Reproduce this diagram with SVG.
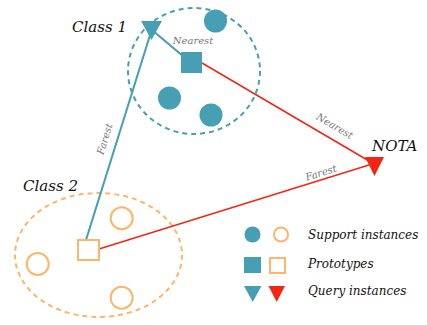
<svg xmlns="http://www.w3.org/2000/svg" width="427" height="325" viewBox="0 0 427 325">
  <style>
    .lbl { font-family: "DejaVu Serif", "Liberation Serif", serif; font-style: italic; }
    .cls { font-size: 15px; fill: #111; }
    .edge { font-size: 10px; fill: #777; }
    .leg { font-size: 12px; fill: #111; }
    .teal { fill: #479fb3; }
    .org { fill: none; stroke: #fdb56b; stroke-width: 2; }
    .red { fill: #f22613; }
    .ln-teal { stroke: #479fb3; stroke-width: 2; fill: none; }
    .ln-red { stroke: #f22613; stroke-width: 1.5; fill: none; }
  </style>
  <rect width="427" height="325" fill="#ffffff"/>

  <!-- class regions -->
  <ellipse id="region1" cx="194" cy="71" rx="66" ry="63" fill="none" stroke="#479fb3" stroke-width="2" stroke-dasharray="5,4"/>
  <ellipse id="region2" cx="98.5" cy="255" rx="83.5" ry="62" fill="none" stroke="#fdb56b" stroke-width="2" stroke-dasharray="5,4"/>

  <!-- connectors -->
  <g id="connectors">
    <line class="ln-teal" x1="190" y1="62" x2="152" y2="30"/>
    <line class="ln-teal" x1="86" y1="240" x2="151" y2="32"/>
    <line class="ln-red" x1="202" y1="63" x2="369" y2="161"/>
    <line class="ln-red" x1="99" y1="249" x2="369" y2="165"/>
    <text class="lbl edge" x="193" y="44" text-anchor="middle">Nearest</text>
    <text class="lbl edge" transform="translate(108,140) rotate(-73)" text-anchor="middle">Farest</text>
    <text class="lbl edge" transform="translate(333,129) rotate(30.5)" text-anchor="middle">Nearest</text>
    <text class="lbl edge" transform="translate(322,176) rotate(-17.4)" text-anchor="middle">Farest</text>
  </g>

  <!-- class 1 -->
  <g id="class1">
    <text class="lbl cls" x="72" y="32">Class 1</text>
    <circle class="teal" cx="215.5" cy="21" r="11.5"/>
    <circle class="teal" cx="169.5" cy="98" r="11.5"/>
    <circle class="teal" cx="211" cy="115" r="11.5"/>
    <rect class="teal" x="181" y="52" width="21" height="21"/>
    <polygon class="teal" points="141,21 162,21 151.5,40"/>
  </g>

  <!-- class 2 -->
  <g id="class2">
    <text class="lbl cls" x="23" y="191">Class 2</text>
    <circle class="org" cx="121.7" cy="218.3" r="11"/>
    <circle class="org" cx="37.7" cy="264" r="11"/>
    <circle class="org" cx="121.7" cy="297.7" r="11"/>
    <rect class="org" x="78" y="240" width="21" height="20"/>
  </g>

  <!-- open-set query -->
  <g id="nota">
    <text class="lbl cls" x="372" y="151">NOTA</text>
    <polygon class="red" points="365,157 384,157 374.5,176"/>
  </g>

  <!-- legend -->
  <g id="legend">
    <circle class="teal" cx="252.5" cy="234.5" r="8"/>
    <circle class="org" cx="281" cy="234.5" r="7"/>
    <rect class="teal" x="244" y="257" width="17" height="16"/>
    <rect class="org" x="270" y="258" width="15" height="15"/>
    <polygon class="teal" points="244,286 261.5,286 252.7,302"/>
    <polygon class="red" points="268.5,286 285,286 276.7,302"/>
    <text class="lbl leg" x="308" y="239">Support instances</text>
    <text class="lbl leg" x="308" y="268">Prototypes</text>
    <text class="lbl leg" x="308" y="295">Query instances</text>
  </g>
</svg>
